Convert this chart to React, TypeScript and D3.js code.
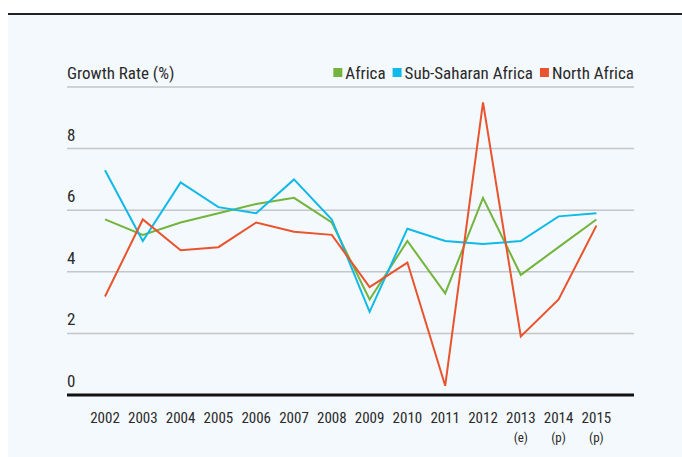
import React, { useEffect, useRef } from "react";
import * as d3 from "d3";

// chart data
const years = ["2002", "2003", "2004", "2005", "2006", "2007", "2008", "2009", "2010", "2011", "2012", "2013", "2014", "2015"];
const yearNotes = ["", "", "", "", "", "", "", "", "", "", "", "(e)", "(p)", "(p)"];
const africa = [5.7, 5.2, 5.6, 5.9, 6.2, 6.4, 5.6, 3.1, 5.0, 3.3, 6.4, 3.9, 4.8, 5.7];
const subSaharan = [7.3, 5.0, 6.9, 6.1, 5.9, 7.0, 5.7, 2.7, 5.4, 5.0, 4.9, 5.0, 5.8, 5.9];
const northAfrica = [3.2, 5.7, 4.7, 4.8, 5.6, 5.3, 5.2, 3.5, 4.3, 0.3, 9.5, 1.9, 3.1, 5.5];
const yTicks = [0, 2, 4, 6, 8, 10];
const yLabels = [0, 2, 4, 6, 8];

const seriesList = [
  { name: "Africa", values: africa, color: "#72b43c" },
  { name: "Sub-Saharan Africa", values: subSaharan, color: "#10b9e8" },
  { name: "North Africa", values: northAfrica, color: "#e9532d" },
];

const FONT = "'Liberation Sans Narrow', 'Arial Narrow', 'Roboto Condensed', 'Liberation Sans', Arial, sans-serif";
const TEXT = "#2a2a2a";

const App = () => {
  const svgRef = useRef<SVGSVGElement>(null);

  useEffect(() => {
    const width = 682;
    const height = 457;
    const margin = { top: 87, right: 48, bottom: 62, left: 67 };
    const innerW = width - margin.left - margin.right;
    const innerH = height - margin.top - margin.bottom;

    const svg = d3.select(svgRef.current);
    svg.selectAll("*").remove();

    // background panel + top rule
    svg.append("rect").attr("x", 8).attr("y", 14).attr("width", width - 8).attr("height", height - 14).attr("fill", "#f4f9fd");
    svg.append("line").attr("x1", 8).attr("x2", width).attr("y1", 14).attr("y2", 14).attr("stroke", "#222").attr("stroke-width", 2);

    const g = svg.append("g").attr("transform", `translate(${margin.left}, ${margin.top})`);

    const x = d3.scalePoint<string>().domain(years).range([38, 38 + 37.8 * 13]);
    const y = d3.scaleLinear().domain([0, 10]).range([innerH, 0]);

    // gridlines
    g.selectAll(".grid")
      .data(yTicks.filter((t) => t > 0))
      .enter()
      .append("line")
      .attr("x1", 0)
      .attr("x2", innerW)
      .attr("y1", (d) => y(d))
      .attr("y2", (d) => y(d))
      .attr("stroke", "#c4c6c8")
      .attr("stroke-width", 1.5);

    // y labels sit above the gridlines
    g.selectAll(".ylab")
      .data(yLabels)
      .enter()
      .append("text")
      .attr("x", 0)
      .attr("y", (d) => y(d) - 8)
      .attr("font-family", FONT)
      .attr("font-size", 17)
      .attr("fill", TEXT)
      .text((d) => d);

    // lines
    const lineGen = d3
      .line<number>()
      .x((d, i) => x(years[i]) as number)
      .y((d) => y(d));

    seriesList.forEach((s) => {
      g.append("path")
        .datum(s.values)
        .attr("fill", "none")
        .attr("stroke", s.color)
        .attr("stroke-width", 2)
        .attr("stroke-linejoin", "miter")
        .attr("d", lineGen);
    });

    // x axis
    g.append("line")
      .attr("x1", 0)
      .attr("x2", innerW)
      .attr("y1", innerH)
      .attr("y2", innerH)
      .attr("stroke", "#111")
      .attr("stroke-width", 3);

    const xl = g.selectAll(".xlab").data(years).enter().append("g").attr("transform", (d) => `translate(${x(d)}, ${innerH})`);
    xl.append("text")
      .attr("y", 28)
      .attr("text-anchor", "middle")
      .attr("font-family", FONT)
      .attr("font-size", 15)
      .attr("fill", TEXT)
      .text((d) => d);
    xl.append("text")
      .attr("y", 47)
      .attr("text-anchor", "middle")
      .attr("font-family", FONT)
      .attr("font-size", 13)
      .attr("fill", TEXT)
      .text((d, i) => yearNotes[i]);

    // title
    svg.append("text")
      .attr("x", 67)
      .attr("y", 79)
      .attr("font-family", FONT)
      .attr("font-size", 17)
      .attr("fill", TEXT)
      .text("Growth Rate (%)");

    // legend, right-aligned to the plot edge
    const legend = svg.append("g").attr("transform", `translate(${margin.left + innerW}, 79)`);
    let cursor = 0;
    const items = [...seriesList].reverse();
    items.forEach((s, i) => {
      const t = legend
        .append("text")
        .attr("font-family", FONT)
        .attr("font-size", 17)
        .attr("fill", TEXT)
        .attr("text-anchor", "end")
        .attr("x", cursor)
        .text(s.name);
      const w = (t.node() as SVGTextElement).getComputedTextLength();
      legend
        .append("rect")
        .attr("x", cursor - w - 12)
        .attr("y", -11)
        .attr("width", 9)
        .attr("height", 9)
        .attr("fill", s.color);
      cursor = cursor - w - 12 - (i === items.length - 1 ? 0 : 7);
    });
  }, []);

  return (
    <svg
      ref={svgRef}
      width={682}
      height={457}
      style={{ position: "absolute", left: 0, top: 0 }}
    ></svg>
  );
};

export default App;
